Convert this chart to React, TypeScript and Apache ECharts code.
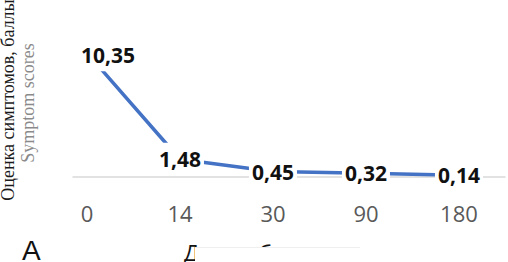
import React, { useEffect, useRef } from "react";
import * as echarts from "echarts";

const categories = ["0", "14", "30", "90", "180"];
const scores = [10.35, 1.48, 0.45, 0.32, 0.14];
const labelTexts = ["10,35", "1,48", "0,45", "0,32", "0,14"];
const yTitleRu = "Оценка симптомов, баллы";
const yTitleEn = "Symptom scores";
const panelLetter = "A";
const xTitle = "Дни наблюдения";

export default function App() {
  const ref = useRef<HTMLDivElement>(null);
  useEffect(() => {
    document.body.style.margin = "0";
    const chart = echarts.init(ref.current!, null, { renderer: "svg" });
    const data = scores.map((v, i) => ({
      value: [i, v],
      label: i === 0 ? { offset: [21, 2] } : {},
    }));
    chart.setOption({
      animation: false,
      backgroundColor: "#ffffff",
      grid: { left: 73, right: 3, top: 33, bottom: 85 },
      xAxis: {
        type: "value",
        min: -0.15,
        max: 4.495,
        splitLine: { show: false },
        axisTick: { show: false },
        axisLine: { show: true, lineStyle: { color: "#d9d9d9", width: 1.5 } },
        axisLabel: {
          customValues: categories.map((_, i) => i),
          formatter: (v: number) => categories[Math.round(v)] ?? "",
          color: "#595959",
          fontFamily: "Open Sans",
          fontSize: 22,
          margin: 25,
        },
      },
      yAxis: {
        type: "value",
        min: 0,
        max: 12,
        show: false,
      },
      series: [
        {
          type: "line",
          data,
          symbol: "circle",
          symbolSize: 1,
          lineStyle: { color: "#4472c4", width: 3.5 },
          itemStyle: { color: "#4472c4" },
          label: {
            show: true,
            position: "inside",
            formatter: (p: any) => labelTexts[p.dataIndex],
            fontFamily: "Open Sans",
            fontWeight: "bold",
            fontSize: 21,
            color: "#111111",
            backgroundColor: "#ffffff",
            padding: [7, 3, 5, 3],
          },
        },
      ],
      graphic: [
        {
          type: "text",
          x: 8,
          y: 100,
          rotation: Math.PI / 2,
          style: {
            text: yTitleRu,
            fontFamily: "Liberation Serif",
            fontSize: 18,
            fill: "#1a1a1a",
            align: "center",
            verticalAlign: "middle",
          },
        },
        {
          type: "text",
          x: 28,
          y: 103,
          rotation: Math.PI / 2,
          style: {
            text: yTitleEn,
            fontFamily: "Liberation Serif",
            fontSize: 18,
            fill: "#8a8a8a",
            align: "center",
            verticalAlign: "middle",
          },
        },
        {
          type: "text",
          x: 22,
          y: 250,
          style: {
            text: panelLetter,
            fontFamily: "Liberation Sans",
            fontSize: 28,
            fill: "#111111",
            align: "left",
            verticalAlign: "middle",
          },
        },
        {
          type: "text",
          x: 184,
          y: 241,
          style: {
            text: xTitle,
            fontFamily: "Open Sans",
            fontSize: 22,
            letterSpacing: 0.5,
            fill: "#111111",
            align: "left",
            verticalAlign: "top",
          },
        },
        {
          type: "rect",
          shape: { x: 195, y: 247.5, width: 240, height: 16 },
          style: { fill: "#ffffff" },
        },
        {
          type: "line",
          shape: { x1: 195, y1: 247.5, x2: 360, y2: 247.5 },
          style: { stroke: "#efefef", lineWidth: 1 },
        },
      ],
    });
    return () => chart.dispose();
  }, []);
  return <div ref={ref} style={{ width: 508, height: 262 }} />;
}
